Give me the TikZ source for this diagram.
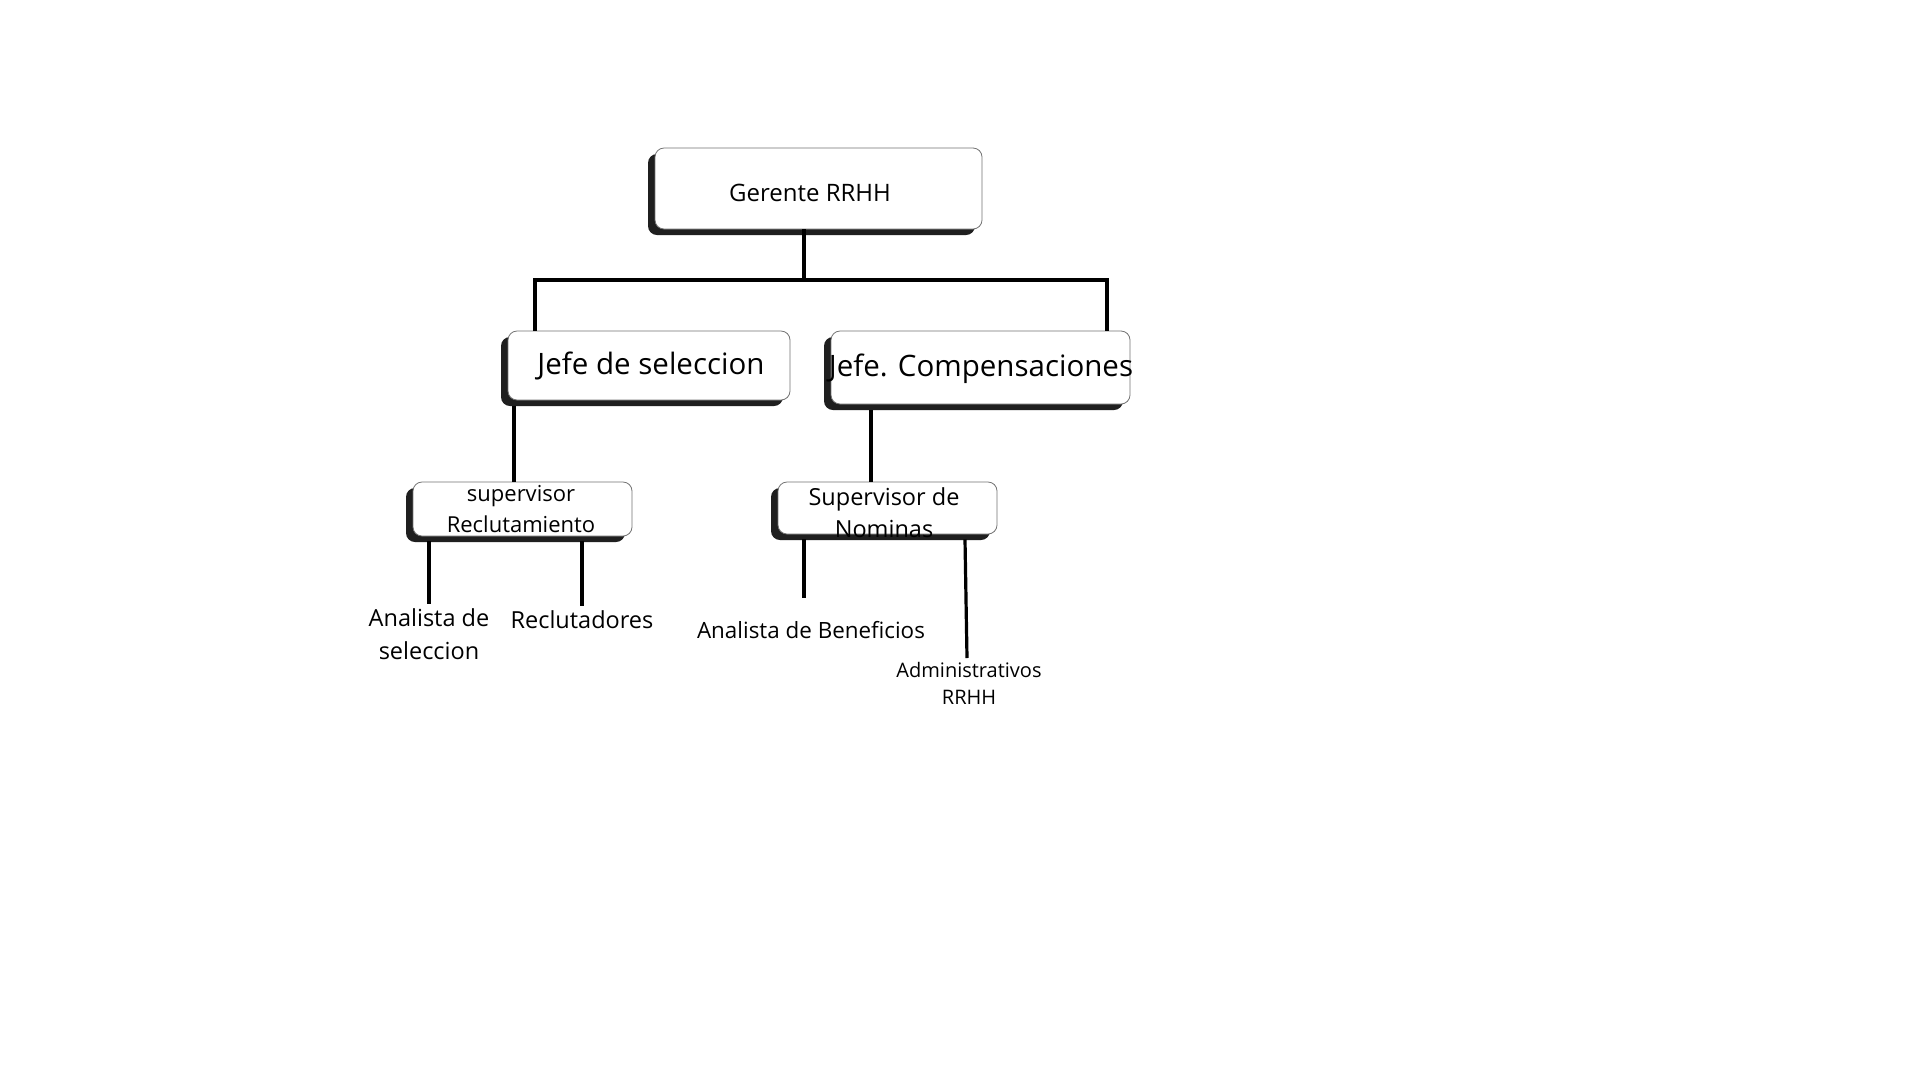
\documentclass[tikz,border=0pt]{standalone}
\usepackage{fontspec}
\setmainfont{Open Sans}
\usetikzlibrary{shadows}
\begin{document}
\begin{tikzpicture}[x=1pt,y=-1pt,
  box/.style={draw=black!55, line width=0.8pt, fill=white, rounded corners=9pt, inner sep=0pt,
    drop shadow={shadow xshift=-7pt, shadow yshift=-6pt, fill=black!88, opacity=1}},
  conn/.style={line width=3.2pt, black},
  lbl/.style={inner sep=0pt, align=center, font=\fontsize{23.5}{31}\selectfont},
  big/.style={inner sep=0pt, align=center, font=\fontsize{29.5}{34}\selectfont}]
\useasboundingbox (0,0) rectangle (1920,1080);
\fill[white] (0,0) rectangle (1920,1080);

% boxes
\node[box, minimum width=327pt, minimum height=81pt] (g) at (818.5,188.5) {};
\node[box, minimum width=282pt, minimum height=69pt] (js) at (649,365.5) {};
\node[box, minimum width=299pt, minimum height=73pt] (jc) at (980.5,367.5) {};
\node[box, minimum width=219pt, minimum height=54pt] (sr) at (522.5,509) {};
\node[box, minimum width=219pt, minimum height=52pt] (sn) at (887.5,508) {};

% box texts
\node[lbl, font=\fontsize{24}{31}\selectfont] (gt) at (810,193) {Gerente RRHH};
\node[big] (jst) at (651,366) {Jefe de seleccion};
\node[big] (jct) at (981,369) {Jefe. Compensaciones};
\node[lbl, font=\fontsize{22}{31}\selectfont] (srt) at (521,509) {supervisor\\Reclutamiento};
\node[lbl, font=\fontsize{23.5}{32}\selectfont] (snt) at (884,513) {Supervisor de\\Nominas};

% leaf labels
\node[lbl, font=\fontsize{23.5}{33}\selectfont] (as) at (429,634) {Analista de\\seleccion};
\node[lbl] (rc) at (582,620) {Reclutadores};
\node[lbl, font=\fontsize{22.4}{28}\selectfont] (ab) at (811,630) {Analista de Beneficios};
\node[lbl, font=\fontsize{20}{27}\selectfont] (ad) at (969,683) {Administrativos\\RRHH};

% coordinates
\coordinate (bus) at (804,280);
\coordinate (jl) at (535,280);
\coordinate (jr) at (1107,280);
\coordinate (x1) at (514,0);
\coordinate (x2) at (871,0);
\coordinate (e1) at (429,604);
\coordinate (e2) at (582,606);
\coordinate (e3) at (804,598);
\coordinate (e4) at (967,658);
\coordinate (s4) at (965,0);

% connectors
\draw[conn] (g.south -| bus) -- (bus);
\draw[conn] (js.north -| jl) -- (jl) -- (jr) -- (jc.north -| jr);
\draw[conn] (js.south -| x1) ++(0,6) -- (sr.north -| x1);
\draw[conn] (jc.south -| x2) ++(0,6) -- (sn.north -| x2);
\draw[conn] (sr.south -| e1) ++(0,5) -- (e1);
\draw[conn] (sr.south -| e2) ++(0,5) -- (e2);
\draw[conn] (sn.south -| e3) ++(0,5) -- (e3);
\draw[conn] (sn.south -| s4) ++(0,5) -- (e4);
\end{tikzpicture}
\end{document}
